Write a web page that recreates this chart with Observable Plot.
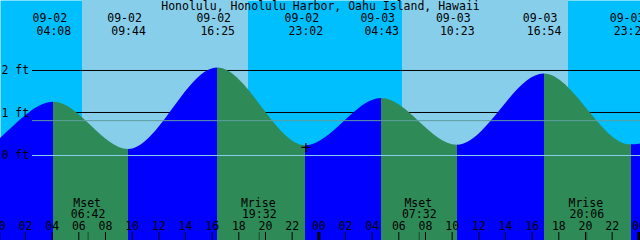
<!DOCTYPE html>
<html><head><meta charset="utf-8">
<script src="https://cdn.jsdelivr.net/npm/d3@7"></script>
<script src="https://cdn.jsdelivr.net/npm/@observablehq/plot@0.6"></script>
<style>html,body{margin:0;padding:0;background:#fff;overflow:hidden}</style>
</head><body><div id="chart"></div>
<script>
const title = "Honolulu, Honolulu Harbor, Oahu Island, Hawaii";
// tide extremes (first two and last lie just outside the window)
const tideTimes = ["09-01 15:50","09-01 21:42","09-02 04:08","09-02 09:44","09-02 16:25","09-02 23:02","09-03 04:43","09-03 10:23","09-03 16:54","09-03 23:25","09-04 05:20"];
const tideHeights = [2.1, 0.0, 1.25, 0.14, 2.06, 0.23, 1.34, 0.24, 1.92, 0.25, 1.35];
const sunriseTimes = ["09-02 06:17","09-03 06:17"];
const sunsetTimes = ["09-02 18:44","09-03 18:44"];
const moonLabels = ["Mset","Mrise","Mset","Mrise"];
const moonTimes = ["09-02 06:42","09-02 19:32","09-03 07:32","09-03 20:06"];
const hourTicks = [0,2,4,6,8,10,12,14,16,18,20,22,24,26,28,30,32,34,36,38,40,42,44,46,48];
const hourTickLabels = ["00","02","04","06","08","10","12","14","16","18","20","22","00","02","04","06","08","10","12","14","16","18","20","22","00"];
const levelValues = [0, 1, 2];
const levelLabels = ["0 ft","1 ft","2 ft"];
const meanLevel = 0.82;
const markTime = "09-02 23:02";
const markHeight = 0.19;
const windowHours = [0.1275, 48.1275];
const heightRange = [-2.0, 3.647];

const colors = {night:"#00BFFF", day:"#87CEEB", rising:"#0000FF", falling:"#2E8B57", mean:"#5F9EA0", datum:"#87CEEB"};

function hours(s) {
  const [md, hm] = s.split(" ");
  const day = +md.split("-")[1] + (md.startsWith("09") ? 0 : 30);
  const [H, M] = hm.split(":").map(Number);
  return (day - 2) * 24 + H + M / 60;
}

const tide = tideTimes.map((t, i) => ({h: hours(t), v: tideHeights[i], date: t.slice(0, 5), time: t.slice(6)}));
const segments = tide.slice(0, -1).map((d, i) => ({x1: d.h, x2: tide[i + 1].h, rising: tide[i + 1].v > d.v}));
const days = sunriseTimes.map((s, i) => ({x1: hours(s), x2: hours(sunsetTimes[i])}));
const visible = tide.filter(d => d.h >= windowHours[0] && d.h <= windowHours[1]);
const moon = moonTimes.map((t, i) => ({h: hours(t), label: moonLabels[i], time: t.slice(6)}));

const chart = Plot.plot({
  width: 640, height: 240, margin: 0,
  x: {domain: windowHours},
  y: {domain: heightRange},
  color: {type: "identity"},
  style: {fontFamily: "DejaVu Sans Mono", fontSize: "11.5px", background: "transparent", overflow: "hidden", color: "black"},
  marks: [
    Plot.frame({fill: colors.night, stroke: null}),
    Plot.rect(days, {x1: "x1", x2: "x2", fill: colors.day, shapeRendering: "crispEdges"}),
    Plot.ruleY([2], {stroke: "black", insetLeft: 32}),
    Plot.ruleY([1], {stroke: "black", insetLeft: 32, dy: -0.5}),
    Plot.rect(segments, {x1: "x1", x2: "x2", fill: d => d.rising ? colors.rising : colors.falling, shapeRendering: "crispEdges"}),
    Plot.areaY(tide, {x: "h", y1: heightRange[0], y2: "v", curve: "monotone-x", fill: "none"}),
    Plot.ruleY([meanLevel], {stroke: colors.mean, insetLeft: 32}),
    Plot.ruleY([0], {stroke: colors.datum, insetLeft: 32}),
    Plot.text(levelValues, {y: d => d, text: (d, i) => levelLabels[i], frameAnchor: "left", textAnchor: "start", dx: 1}),
    Plot.dot([{h: hours(markTime), v: markHeight}], {x: "h", y: "v", symbol: "plus", r: 3, stroke: "black", strokeWidth: 1.2}),
    Plot.text([title], {text: d => d, frameAnchor: "top", lineAnchor: "bottom", dy: 9.5}),
    Plot.text(visible, {x: "h", text: "date", frameAnchor: "top", lineAnchor: "bottom", dy: 21.7, dx: -4}),
    Plot.text(visible, {x: "h", text: "time", frameAnchor: "top", lineAnchor: "bottom", dy: 34}),
    Plot.text(moon, {x: "h", text: "label", frameAnchor: "bottom", lineAnchor: "bottom", dy: -34, dx: -1}),
    Plot.text(moon, {x: "h", text: "time", frameAnchor: "bottom", lineAnchor: "bottom", dy: -22.7}),
    Plot.ruleX(moon, {x: "h", insetTop: 232, stroke: "black", strokeOpacity: 0.45}),
    Plot.ruleX(hourTicks, {x: d => d, insetTop: 232, stroke: "black", strokeWidth: (d, i) => hourTickLabels[i] === "00" ? 3 : 1}),
    Plot.text(hourTicks, {x: d => d, text: (d, i) => hourTickLabels[i], frameAnchor: "bottom", lineAnchor: "bottom", dy: -10.7})
  ]
});

// clip the rising/falling colour bands to the region under the tide curve drawn by Plot
(function clipFill(svg) {
  const ns = "http://www.w3.org/2000/svg";
  const rects = svg.querySelectorAll(':scope > g[aria-label="rect"]');
  const fillG = rects[rects.length - 1];
  const areaG = svg.querySelector(':scope > g[aria-label="area"]');
  const areaPath = areaG && areaG.querySelector("path");
  if (!fillG || !areaPath) return;
  const defs = document.createElementNS(ns, "defs");
  const cp = document.createElementNS(ns, "clipPath");
  cp.setAttribute("id", "tide-clip");
  const p = document.createElementNS(ns, "path");
  p.setAttribute("d", areaPath.getAttribute("d"));
  if (areaG.getAttribute("transform")) p.setAttribute("transform", areaG.getAttribute("transform"));
  cp.appendChild(p);
  defs.appendChild(cp);
  svg.insertBefore(defs, svg.firstChild);
  const wrap = document.createElementNS(ns, "g");
  wrap.setAttribute("clip-path", "url(#tide-clip)");
  fillG.parentNode.insertBefore(wrap, fillG);
  wrap.appendChild(fillG);
})(chart);

document.getElementById("chart").appendChild(chart);
</script>
</body></html>
